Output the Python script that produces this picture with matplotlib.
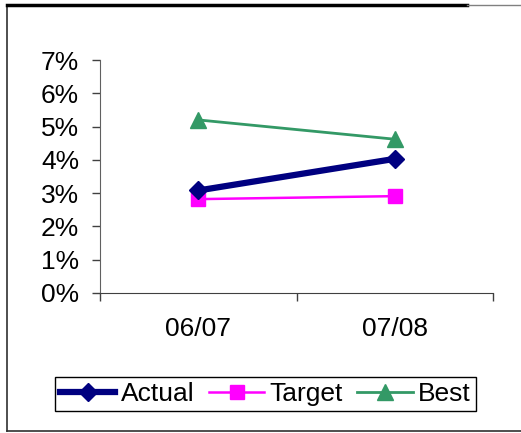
import matplotlib.pyplot as plt
from matplotlib.lines import Line2D
from matplotlib.ticker import FixedLocator, PercentFormatter

# Data
periods = ['06/07', '07/08']
actual = [3.08, 4.03]
target = [2.82, 2.91]
best = [5.2, 4.62]

plt.rcParams['font.family'] = ['Liberation Sans', 'DejaVu Sans']

fig = plt.figure(figsize=(5.21, 4.33), dpi=100)
ax = fig.add_axes([100 / 521, 1 - 293 / 433, 393 / 521, 233 / 433])

x = list(range(len(periods)))
ax.plot(x, actual, color='#000080', lw=4.5, marker='D', ms=9, label='Actual', zorder=4)
ax.plot(x, target, color='#FF00FF', lw=1.8, marker='s', ms=10, label='Target', zorder=3)
ax.plot(x, best, color='#339966', lw=2, marker='^', ms=11, label='Best', zorder=3)

ax.set_xlim(-0.5, 1.5)
ax.set_ylim(0, 7)
ax.set_yticks(range(0, 8))
ax.yaxis.set_major_formatter(PercentFormatter(decimals=0))
ax.set_xticks(x)
ax.set_xticklabels(periods)
ax.xaxis.set_minor_locator(FixedLocator([-0.5, 0.5, 1.5]))

ax.tick_params(axis='x', which='major', length=0, pad=17, labelsize=19)
ax.tick_params(axis='x', which='minor', length=6, width=1, color='#404040', direction='out')
ax.tick_params(axis='y', length=6, width=1, color='#404040', pad=9, labelsize=19)

for s in ['top', 'right']:
    ax.spines[s].set_visible(False)
ax.spines['left'].set_color('#606060')
ax.spines['bottom'].set_color('#404040')

leg = ax.legend(loc='center', bbox_to_anchor=(265.5 / 521, 1 - 394 / 433),
                bbox_transform=fig.transFigure, ncol=3, fontsize=19,
                frameon=True, fancybox=False, edgecolor='black', framealpha=1,
                handlelength=2.1, handletextpad=0.2, columnspacing=0.55,
                borderpad=0.2, borderaxespad=0)
leg.get_frame().set_linewidth(1)

# outer chart border
fig.add_artist(Line2D([7 / 521, 7 / 521], [1 - 5 / 433, 1 - 431 / 433],
                      transform=fig.transFigure, color='#303030', lw=1.2))
fig.add_artist(Line2D([7 / 521, 1], [1 - 431 / 433, 1 - 431 / 433],
                      transform=fig.transFigure, color='#303030', lw=1.2))
fig.add_artist(Line2D([7 / 521, 467 / 521], [1 - 5 / 433, 1 - 5 / 433],
                      transform=fig.transFigure, color='black', lw=2.5))
fig.add_artist(Line2D([467 / 521, 1], [1 - 5 / 433, 1 - 5 / 433],
                      transform=fig.transFigure, color='#808080', lw=1))

fig.savefig('out.png', dpi=100)
